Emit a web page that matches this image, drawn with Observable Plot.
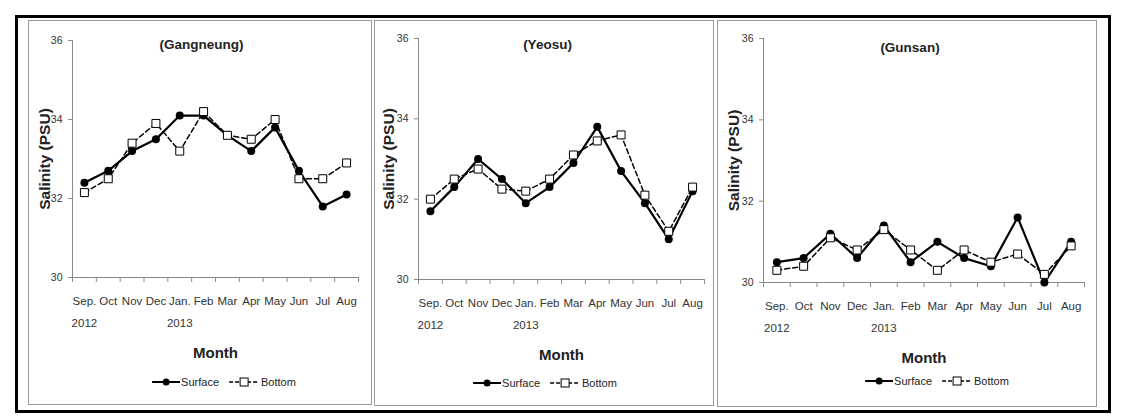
<!DOCTYPE html>
<html><head><meta charset="utf-8">
<script src="https://cdn.jsdelivr.net/npm/d3@7"></script>
<script src="https://cdn.jsdelivr.net/npm/@observablehq/plot@0.6"></script>
<style>
body{margin:0;background:#fff;}
#wrap{position:relative;width:1122px;height:419px;background:#fff;overflow:hidden;font-family:"Liberation Sans",Arial,sans-serif;}
.frame{position:absolute;left:15px;top:15px;width:1096px;height:398px;border:3px solid #000;box-sizing:border-box;}
.panel{position:absolute;border:1px solid #9a9a9a;box-sizing:border-box;}
.plot{position:absolute;}
.legend{position:absolute;display:flex;align-items:center;font-size:11px;color:#222;transform:translate(-50%,-50%);white-space:nowrap;}
.legend svg{display:block;}
</style></head>
<body>
<div id="wrap"><div class="frame"></div></div>
<script>
const months = ["Sep.\n2012","Oct","Nov","Dec","Jan.\n2013","Feb","Mar","Apr","May","Jun","Jul","Aug"];
const yTicks = [30, 32, 34, 36];
const stations = ["(Gangneung)", "(Yeosu)", "(Gunsan)"];
const gangneungSurface = [32.4, 32.7, 33.2, 33.5, 34.1, 34.1, 33.6, 33.2, 33.8, 32.7, 31.8, 32.1];
const gangneungBottom  = [32.15, 32.5, 33.4, 33.9, 33.2, 34.2, 33.6, 33.5, 34.0, 32.5, 32.5, 32.9];
const yeosuSurface     = [31.7, 32.3, 33.0, 32.5, 31.9, 32.3, 32.9, 33.8, 32.7, 31.9, 31.0, 32.2];
const yeosuBottom      = [32.0, 32.5, 32.75, 32.25, 32.2, 32.5, 33.1, 33.45, 33.6, 32.1, 31.2, 32.3];
const gunsanSurface    = [30.5, 30.6, 31.2, 30.6, 31.4, 30.5, 31.0, 30.6, 30.4, 31.6, 30.0, 31.0];
const gunsanBottom     = [30.3, 30.4, 31.1, 30.8, 31.3, 30.8, 30.3, 30.8, 30.5, 30.7, 30.2, 30.9];
const seriesNames = ["Surface", "Bottom"];

const wrap = document.getElementById("wrap");
const panels = [
  {title: stations[0], surf: gangneungSurface, bot: gangneungBottom,
   box: [28, 20, 344, 385], left: 28, width: 344, mL: 44, mR: 14, mT: 20, mB: 88, ty: 44, ldx: -27, legX: 224, legY: 382},
  {title: stations[1], surf: yeosuSurface, bot: yeosuBottom,
   box: [374, 20, 340, 386], left: 375, width: 339, mL: 43, mR: 10, mT: 18, mB: 86, ty: 44, ldx: -29, legX: 545, legY: 383},
  {title: stations[2], surf: gunsanSurface, bot: gunsanBottom,
   box: [717, 20, 380, 387], left: 718, width: 378, mL: 45, mR: 12, mT: 18, mB: 83, ty: 47, ldx: -29, legX: 937, legY: 381}
];
const font = '"Liberation Sans",Arial,sans-serif';

for (const p of panels) {
  const b = document.createElement("div");
  b.className = "panel";
  b.style.left = p.box[0] + "px"; b.style.top = p.box[1] + "px";
  b.style.width = p.box[2] + "px"; b.style.height = p.box[3] + "px";
  wrap.appendChild(b);

  const data = [];
  months.forEach((m, i) => {
    data.push({series: seriesNames[0], i: i + 0.5, v: p.surf[i]});
    data.push({series: seriesNames[1], i: i + 0.5, v: p.bot[i]});
  });
  const surf = data.filter(d => d.series === "Surface");
  const bot = data.filter(d => d.series === "Bottom");

  const chart = Plot.plot({
    width: p.width, height: 345,
    marginLeft: p.mL, marginRight: p.mR, marginTop: p.mT, marginBottom: p.mB,
    style: {fontFamily: font, background: "transparent", overflow: "visible"},
    x: {domain: [0, months.length]},
    y: {domain: [30, 36]},
    marks: [
      Plot.ruleX([0], {stroke: "#8a8a8a"}),
      Plot.ruleY([30], {stroke: "#8a8a8a"}),
      Plot.text(["Salinity (PSU)"], {frameAnchor: "left", textAnchor: "middle", lineAnchor: "middle", rotate: -90, dx: p.ldx, fontSize: 15.5, fontWeight: "bold", fill: "#222"}),
      Plot.axisY({ticks: yTicks, tickSize: 4, tickPadding: 6, fontSize: 10.5, stroke: "#8a8a8a", fill: "#333", tickFormat: d3.format("d"), label: null}),
      Plot.axisX({ticks: d3.range(months.length + 1), tickSize: 5, stroke: "#8a8a8a", tickFormat: () => "", label: null}),
      Plot.axisX({ticks: d3.range(months.length).map(i => i + 0.5), tickSize: 0, tickPadding: 12, fontSize: 11.5, lineHeight: 1.9, fill: "#333",
        tickFormat: d => months[Math.floor(d)], label: null}),
      Plot.text([p.title], {frameAnchor: "top", lineAnchor: "middle", textAnchor: "middle", dy: p.ty - 20 - p.mT, dx: -14, fontSize: 13.5, fontWeight: "bold", fill: "#222"}),
      Plot.text(["Month"], {frameAnchor: "bottom", lineAnchor: "middle", textAnchor: "middle", dy: 76, fontSize: 15, fontWeight: "bold", fill: "#222"}),
      Plot.line(bot, {x: "i", y: "v", stroke: "#000", strokeWidth: 1.5, strokeDasharray: "5,3"}),
      Plot.line(surf, {x: "i", y: "v", stroke: "#000", strokeWidth: 2.2}),
      Plot.dot(surf, {x: "i", y: "v", r: 4, fill: "#000", symbol: "circle"}),
      Plot.dot(bot, {x: "i", y: "v", r: 4.5, fill: "#fff", stroke: "#000", strokeWidth: 1, symbol: "square"})
    ]
  });
  chart.classList.add("plot");
  chart.style.left = p.left + "px";
  chart.style.top = "20px";
  wrap.appendChild(chart);

  const leg = document.createElement("div");
  leg.className = "legend";
  leg.style.left = p.legX + "px"; leg.style.top = p.legY + "px";
  leg.innerHTML =
    `<svg width="28" height="12"><line x1="0" y1="6" x2="28" y2="6" stroke="#000" stroke-width="2"/><circle cx="14" cy="6" r="3.5" fill="#000"/></svg>` +
    `<span style="margin-left:1px">${seriesNames[0]}</span>` +
    `<svg width="30" height="12" style="margin-left:10px"><line x1="0" y1="6" x2="30" y2="6" stroke="#000" stroke-width="1.5" stroke-dasharray="4,2"/><rect x="11" y="2" width="8" height="8" fill="#fff" stroke="#000"/></svg>` +
    `<span style="margin-left:2px">${seriesNames[1]}</span>`;
  wrap.appendChild(leg);
}
</script>
</body></html>
